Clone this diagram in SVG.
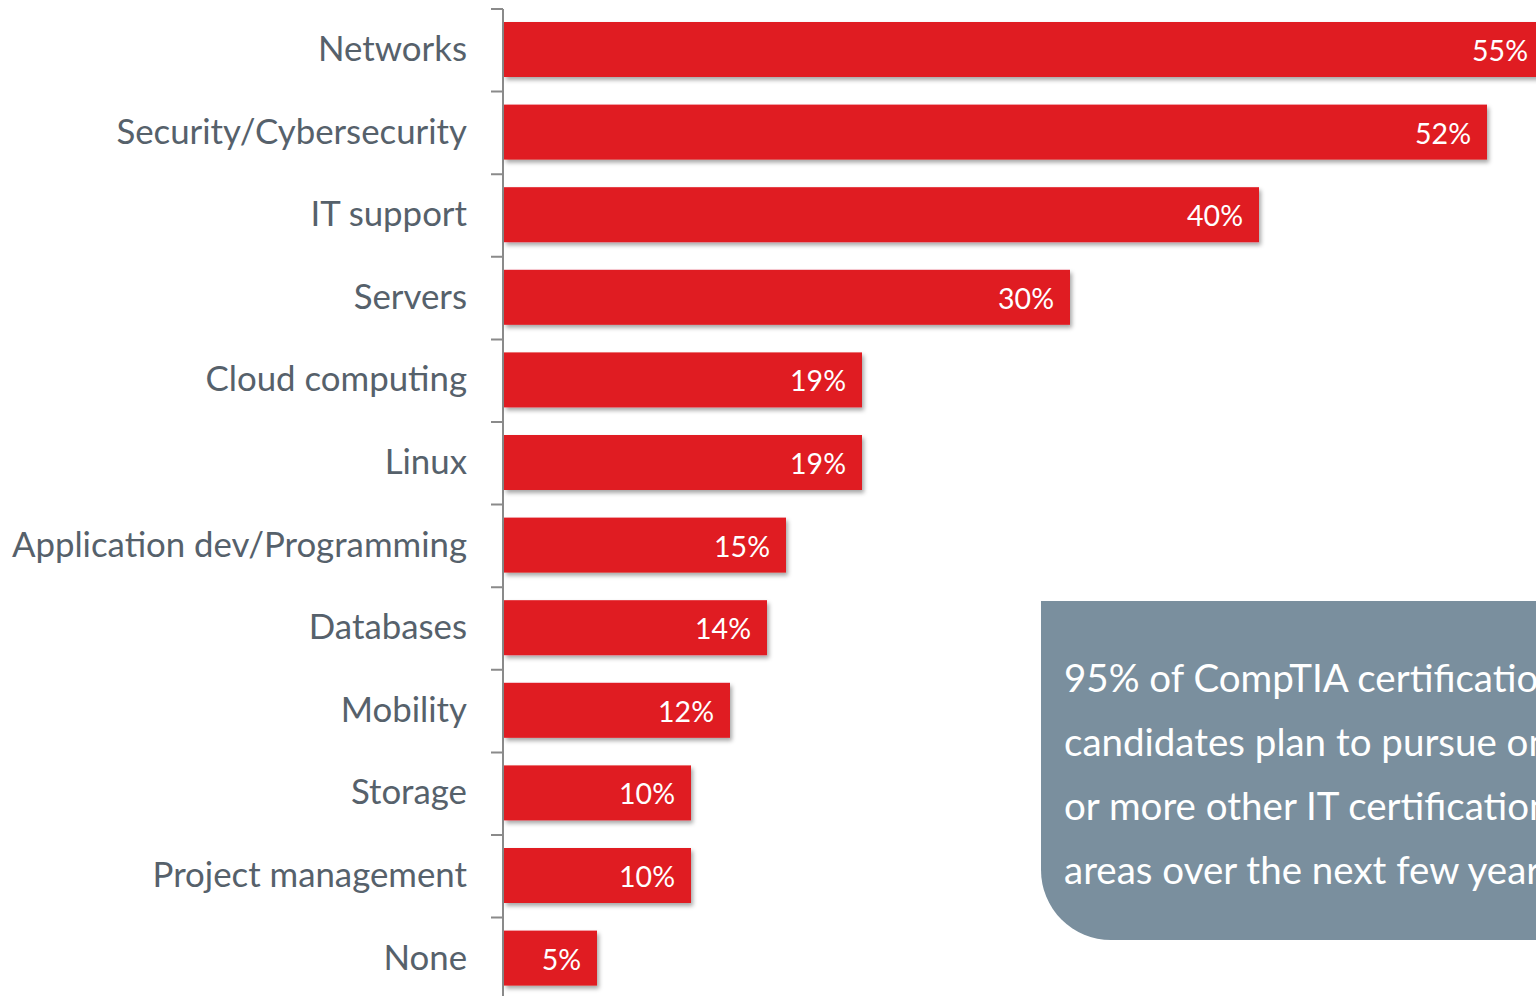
<svg xmlns="http://www.w3.org/2000/svg" width="1536" height="996" viewBox="0 0 1536 996">
<defs>
<filter id="sh" x="-5%" y="-20%" width="115%" height="160%">
<feDropShadow dx="2" dy="3" stdDeviation="2" flood-color="#000" flood-opacity="0.35"/>
</filter>
<style>
.lbl{font-family:Lato,"Open Sans",sans-serif;font-size:34.8px;fill:#56616b;text-anchor:end}
.val{font-family:Lato,"Open Sans",sans-serif;font-size:28.5px;fill:#ffffff;text-anchor:end}
.bar{fill:#e01b22;filter:url(#sh)}
.ax{stroke:#8a8a8a;stroke-width:2;fill:none}
.call{font-family:Lato,"Open Sans",sans-serif;font-size:38.5px;fill:#ffffff}
</style>
</defs>
<rect width="1536" height="996" fill="#ffffff"/>
<g id="axis">
<path class="ax" d="M503,9 V996 M491,9 H503 M491,91.6 H503 M491,174.2 H503 M491,256.8 H503 M491,339.4 H503 M491,422 H503 M491,504.6 H503 M491,587.2 H503 M491,669.8 H503 M491,752.4 H503 M491,835 H503 M491,917.6 H503"/>
</g>
<g id="networks"><rect class="bar" x="504" y="22" width="1040" height="55"/><text class="lbl" x="467" y="61">Networks</text><text class="val" x="1528" y="61">55%</text></g>
<g id="security"><rect class="bar" x="504" y="104.6" width="983" height="55"/><text class="lbl" x="467" y="143.6">Security/Cybersecurity</text><text class="val" x="1471" y="143.6">52%</text></g>
<g id="itsupport"><rect class="bar" x="504" y="187.2" width="755" height="55"/><text class="lbl" x="467" y="226.2">IT support</text><text class="val" x="1243" y="226.2">40%</text></g>
<g id="servers"><rect class="bar" x="504" y="269.8" width="566" height="55"/><text class="lbl" x="467" y="308.8">Servers</text><text class="val" x="1054" y="308.8">30%</text></g>
<g id="cloud"><rect class="bar" x="504" y="352.4" width="358" height="55"/><text class="lbl" x="467" y="391.4">Cloud computing</text><text class="val" x="846" y="391.4">19%</text></g>
<g id="linux"><rect class="bar" x="504" y="435" width="358" height="55"/><text class="lbl" x="467" y="474">Linux</text><text class="val" x="846" y="474">19%</text></g>
<g id="appdev"><rect class="bar" x="504" y="517.6" width="282" height="55"/><text class="lbl" x="467" y="556.6">Application dev/Programming</text><text class="val" x="770" y="556.6">15%</text></g>
<g id="databases"><rect class="bar" x="504" y="600.2" width="263" height="55"/><text class="lbl" x="467" y="639.2">Databases</text><text class="val" x="751" y="639.2">14%</text></g>
<g id="mobility"><rect class="bar" x="504" y="682.8" width="226" height="55"/><text class="lbl" x="467" y="721.8">Mobility</text><text class="val" x="714" y="721.8">12%</text></g>
<g id="storage"><rect class="bar" x="504" y="765.4" width="187" height="55"/><text class="lbl" x="467" y="804.4">Storage</text><text class="val" x="675" y="804.4">10%</text></g>
<g id="project"><rect class="bar" x="504" y="848" width="187" height="55"/><text class="lbl" x="467" y="887">Project management</text><text class="val" x="675" y="887">10%</text></g>
<g id="none"><rect class="bar" x="504" y="930.6" width="93" height="55"/><text class="lbl" x="467" y="969.6">None</text><text class="val" x="581" y="969.6">5%</text></g>
<g id="callout">
<path d="M1041,601 H1560 V940 H1111 A70,70 0 0 1 1041,870 Z" fill="#7a8f9e"/>
<text class="call" x="1064" y="692">95% of CompTIA certification</text>
<text class="call" x="1064" y="756">candidates plan to pursue one</text>
<text class="call" x="1064" y="820">or more other IT certification</text>
<text class="call" x="1064" y="884">areas over the next few years</text>
</g>
</svg>
